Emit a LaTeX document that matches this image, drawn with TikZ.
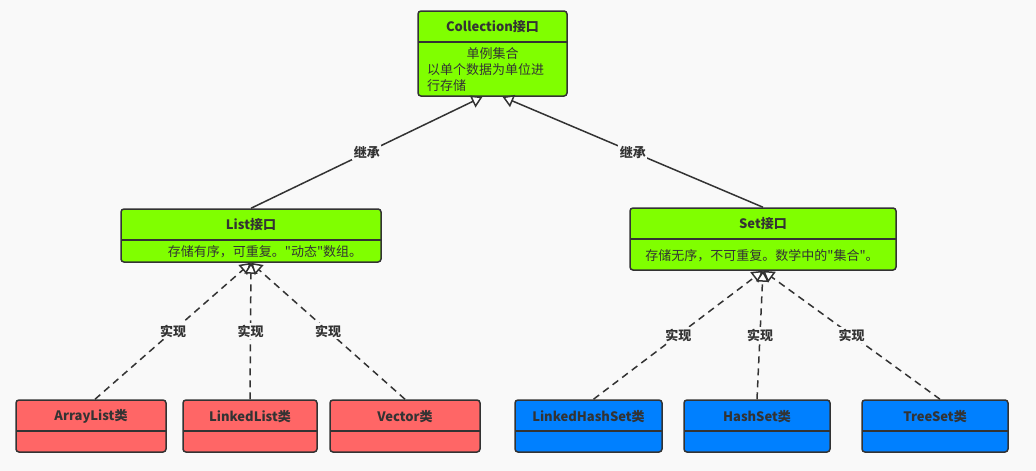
\documentclass[tikz,border=0pt]{standalone}
\usepackage{fontspec}
\setmainfont{Noto Sans CJK SC}[Ligatures=TeXOff]
\usetikzlibrary{arrows.meta}

\definecolor{ifacegreen}{HTML}{80FF00}
\definecolor{classred}{HTML}{FF6666}
\definecolor{classblue}{HTML}{0080FF}
\definecolor{edge}{HTML}{333333}
\definecolor{paper}{HTML}{F9F9F9}

\begin{document}
\begin{tikzpicture}[
	x=1pt, y=-1pt,
	umlbox/.style={draw=edge, line width=1.5pt, rounded corners=3pt, inner sep=0pt,
		path picture={\draw[edge, line width=1.5pt]
			([yshift=-31pt]path picture bounding box.north west) --
			([yshift=-31pt]path picture bounding box.north east);}},
	head/.style={font=\fontsize{13}{16}\selectfont\bfseries, text=edge, inner sep=0pt},
	body/.style={font=\fontsize{13}{16}\selectfont, text=edge, inner sep=0pt},
	extends/.style={draw=edge, line width=1.5pt,
		-{Triangle[open, fill=white, length=11pt, width=13pt]}},
	implements/.style={extends, dash pattern=on 7pt off 5pt},
	tag/.style={fill=paper, inner sep=1.5pt, font=\fontsize{13}{16}\selectfont\bfseries, text=edge}
	]
	\useasboundingbox (0,0) rectangle (1036,471);
	\fill[paper] (0,0) rectangle (1036,471);

	% interfaces
	\node [umlbox, fill=ifacegreen, minimum width=149pt, minimum height=85pt] (1) 
		at (492.5,53.5) {};
	\node [head] (1a) at ([yshift=-16pt]1.north) {Collection接口};
	\node [body] (1b) at (492.5,54) {单例集合};
	\node [body, anchor=west, align=left] (1c) at (427,78) 
		{以单个数据为单位进\\行存储};

	\node [umlbox, fill=ifacegreen, minimum width=260pt, minimum height=53pt] (2) 
		at (251,235.5) {};
	\node [head] (2a) at ([yshift=-16pt]2.north) {List接口};
	\node [body] (2b) at (265,252) {存储有序，可重复。"动态"数组。};

	\node [umlbox, fill=ifacegreen, minimum width=266pt, minimum height=62pt] (3) 
		at (763,239) {};
	\node [head] (3a) at ([yshift=-16pt]3.north) {Set接口};
	\node [body] (3b) at (762,256) {存储无序，不可重复。数学中的"集合"。};

	% classes
	\node [umlbox, fill=classred, minimum width=150pt, minimum height=52pt] (4) 
		at (91,426) {};
	\node [head] (4a) at ([yshift=-17pt]4.north) {ArrayList类};
	\node [umlbox, fill=classred, minimum width=134pt, minimum height=52pt] (5) 
		at (250,426) {};
	\node [head] (5a) at ([yshift=-17pt]5.north) {LinkedList类};
	\node [umlbox, fill=classred, minimum width=150pt, minimum height=52pt] (6) 
		at (405,426) {};
	\node [head] (6a) at ([yshift=-17pt]6.north) {Vector类};

	\node [umlbox, fill=classblue, minimum width=147pt, minimum height=52pt] (7) 
		at (588.5,426) {};
	\node [head] (7a) at ([yshift=-17pt]7.north) {LinkedHashSet类};
	\node [umlbox, fill=classblue, minimum width=146pt, minimum height=52pt] (8) 
		at (757,426) {};
	\node [head] (8a) at ([yshift=-17pt]8.north) {HashSet类};
	\node [umlbox, fill=classblue, minimum width=146pt, minimum height=52pt] (9) 
		at (935,426) {};
	\node [head] (9a) at ([yshift=-17pt]9.north) {TreeSet类};

	% inheritance
	\draw [extends] (2.north) to 
		node [tag] {继承} 
		([xshift=-10pt]1.south);
	\draw [extends] (3.north) to 
		node [tag] {继承} 
		([xshift=10pt]1.south);

	% realisation
	\draw [implements] ([xshift=4pt]4.north) to 
		node [tag] {实现} 
		(2.south);
	\draw [implements] (5.north) to 
		node [tag] {实现} 
		(2.south);
	\draw [implements] (6.north) to 
		node [tag] {实现} 
		(2.south);
	\draw [implements] ([xshift=5pt]7.north) to 
		node [tag] {实现} 
		(3.south);
	\draw [implements] (8.north) to 
		node [tag] {实现} 
		(3.south);
	\draw [implements] ([xshift=5pt]9.north) to 
		node [tag] {实现} 
		(3.south);
\end{tikzpicture}
\end{document}
